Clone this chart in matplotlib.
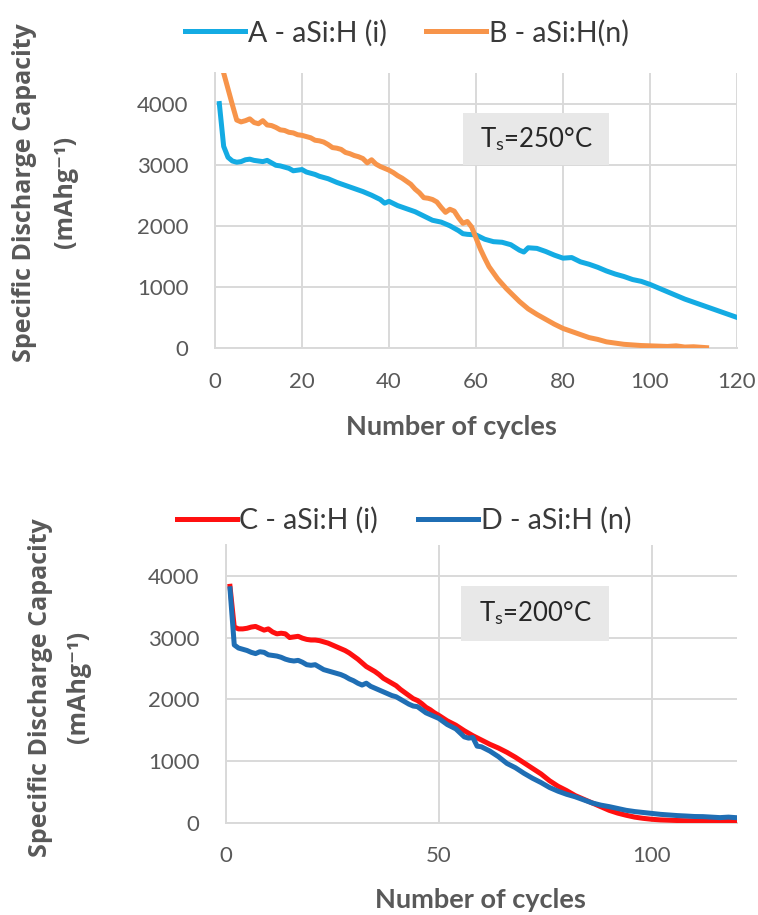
import matplotlib
matplotlib.use("Agg")
import matplotlib.pyplot as plt
from matplotlib.patches import Rectangle

plt.rcParams["font.family"] = ["Lato", "DejaVu Sans"]
plt.rcParams["mathtext.fontset"] = "custom"
plt.rcParams["mathtext.rm"] = "Lato"
plt.rcParams["mathtext.it"] = "Lato:italic"

GREY = "#595959"
GRID = "#d9d9d9"

# ---- top panel, Ts = 250 C ----
a_cycles = [1, 2, 3, 4, 5, 6, 7, 8, 9, 10, 11, 12, 13, 14, 15, 16, 17, 18, 19, 20,
            21, 22, 23, 24, 26, 28, 30, 32, 34, 36, 38, 39, 40, 42, 44, 46, 48, 50,
            52, 54, 56, 57, 58, 60, 62, 64, 66, 68, 70, 71, 72, 74, 76, 78, 80, 82,
            84, 86, 88, 90, 92, 94, 96, 98, 100, 102, 104, 106, 108, 110, 112, 114,
            116, 118, 120]
a_capacity = [4000, 3300, 3120, 3060, 3040, 3050, 3080, 3090, 3070, 3060, 3050, 3070,
              3030, 2990, 2980, 2960, 2940, 2900, 2910, 2920, 2880, 2860, 2840, 2810,
              2770, 2710, 2660, 2610, 2560, 2500, 2430, 2370, 2400, 2330, 2280, 2230,
              2160, 2090, 2060, 2000, 1920, 1870, 1860, 1850, 1780, 1740, 1730, 1690,
              1600, 1570, 1640, 1630, 1580, 1520, 1470, 1480, 1410, 1370, 1320, 1260,
              1210, 1170, 1120, 1090, 1040, 980, 920, 860, 800, 750, 700, 650, 600,
              550, 500]

b_cycles = list(range(1, 71)) + [72, 74, 76, 78, 80, 82, 84, 86, 88, 90, 92, 94, 96,
                                 98, 100, 102, 104, 106, 108, 110, 112, 113]
b_capacity = [4830, 4500, 4240, 3980, 3730, 3700, 3720, 3750, 3690, 3670, 3720, 3650,
              3640, 3610, 3570, 3560, 3530, 3520, 3490, 3480, 3460, 3440, 3400, 3390,
              3370, 3330, 3280, 3270, 3250, 3200, 3180, 3150, 3130, 3100, 3030, 3080,
              3010, 2970, 2940, 2910, 2870, 2820, 2780, 2730, 2680, 2600, 2540, 2460,
              2450, 2430, 2390, 2300, 2220, 2270, 2240, 2130, 2040, 2070, 1980, 1800,
              1620, 1470, 1330, 1230, 1130, 1050, 970, 900, 830, 760,
              640, 550, 470, 390, 320, 270, 220, 170, 140, 100, 80, 60, 50, 40, 35,
              30, 25, 35, 15, 20, 10, 5]

# ---- bottom panel, Ts = 200 C ----
cd_cycles = list(range(1, 51)) + list(range(52, 121, 2))
c_capacity = [3830, 3170, 3140, 3140, 3150, 3170, 3180, 3150, 3120, 3140, 3090, 3060,
              3070, 3060, 3000, 3010, 3020, 2990, 2970, 2960, 2960, 2950, 2930, 2910,
              2880, 2850, 2820, 2790, 2750, 2700, 2650, 2590, 2530, 2490, 2450, 2400,
              2340, 2300, 2260, 2220, 2160, 2110, 2060, 2010, 1980, 1930, 1870, 1830,
              1780, 1740,
              1650, 1580, 1490, 1410, 1340, 1270, 1210, 1140, 1060, 970, 880, 790, 680,
              590, 520, 440, 380, 320, 260, 200, 155, 120, 90, 70, 55, 45, 40, 35, 32,
              30, 28, 25, 24, 22, 21]

d_cycles = list(range(1, 51)) + [52, 54, 56, 57, 58, 59, 60] + list(range(62, 121, 2))
d_capacity = [3790, 2880, 2830, 2810, 2790, 2760, 2740, 2770, 2760, 2720, 2710, 2700,
              2680, 2650, 2630, 2620, 2630, 2600, 2560, 2550, 2560, 2520, 2480, 2460,
              2440, 2420, 2400, 2370, 2330, 2300, 2260, 2230, 2260, 2210, 2180, 2150,
              2120, 2090, 2060, 2040, 2000, 1960, 1920, 1890, 1880, 1830, 1780, 1750,
              1720, 1690,
              1590, 1520, 1390, 1370, 1380, 1240, 1230,
              1160, 1070, 960, 890, 800, 720, 650, 570, 510, 460, 420, 370, 320, 285,
              260, 230, 200, 180, 165, 150, 135, 125, 115, 108, 100, 98, 90, 82, 90, 80]

y_ticks = [0, 1000, 2000, 3000, 4000]


def style_axes(ax, xticks):
    ax.set_xlim(0, 120)
    ax.set_ylim(0, 4500)
    ax.set_xticks(xticks)
    ax.set_yticks(y_ticks)
    for s in ["top", "right"]:
        ax.spines[s].set_visible(False)
    for s in ["left", "bottom"]:
        ax.spines[s].set_color(GRID)
        ax.spines[s].set_linewidth(1.4)
    ax.grid(True, color=GRID, linewidth=1.4)
    ax.set_axisbelow(True)
    ax.tick_params(length=0, labelsize=16, labelcolor=GREY)
    ax.tick_params(axis="y", pad=19)
    ax.tick_params(axis="x", pad=17)


def ts_box(ax, x0, y0, w, h, label):
    ax.add_patch(Rectangle((x0, y0), w, h, facecolor="#e8e8e8", edgecolor="none", zorder=1))
    ax.text(x0 + w / 2, y0 + h / 2, label, ha="center", va="center", fontsize=18.5,
            color="#262626", zorder=2)


def ylabel(fig, x1, x2, y):
    fam = ["Open Sans", "DejaVu Sans"]
    fig.text(x1, y, "Specific Discharge Capacity", rotation=90, ha="center", va="center",
             fontsize=18, fontweight="bold", color=GREY, family=fam)
    fig.text(x2, y, "(mAhg\u207b\u00b9)", rotation=90, ha="center", va="center",
             fontsize=18, fontweight="bold", color=GREY, family=fam)


fig = plt.figure(figsize=(7.58, 9.15), dpi=100)

# top
ax1 = fig.add_axes([0.2836, 0.6197, 0.6887, 0.3005])
style_axes(ax1, [0, 20, 40, 60, 80, 100, 120])
la, = ax1.plot(a_cycles, a_capacity, color="#14ABE3", lw=3.6, label="A - aSi:H (i)", zorder=3)
lb, = ax1.plot(b_cycles, b_capacity, color="#F7944A", lw=3.6, label="B - aSi:H(n)", zorder=3)
ts_box(ax1, 57, 2990, 33.6, 860, "T$_\\mathrm{s}$=250°C")
fig.legend(handles=[la, lb], loc="center", bbox_to_anchor=(0.537, 0.964), ncol=2,
           frameon=False, fontsize=20.5, labelcolor="#3a3a3a", handlelength=2.1,
           handletextpad=0.1, columnspacing=1.4)
fig.text(0.595, 0.533, "Number of cycles", ha="center", va="center", fontsize=19.5,
         fontweight="bold", color=GREY)
ylabel(fig, 0.032, 0.087, 0.790)

# bottom
ax2 = fig.add_axes([0.2978, 0.1009, 0.6745, 0.3035])
style_axes(ax2, [0, 50, 100])
lc, = ax2.plot(cd_cycles, c_capacity, color="#FF1010", lw=3.6, label="C - aSi:H (i)", zorder=3)
ld, = ax2.plot(d_cycles, d_capacity, color="#1F6EB4", lw=3.6, label="D - aSi:H (n)", zorder=3)
ts_box(ax2, 55.3, 2940, 34.7, 900, "T$_\\mathrm{s}$=200°C")
fig.legend(handles=[lc, ld], loc="center", bbox_to_anchor=(0.533, 0.431), ncol=2,
           frameon=False, fontsize=20.5, labelcolor="#3a3a3a", handlelength=2.1,
           handletextpad=0.1, columnspacing=1.4)
fig.text(0.634, 0.016, "Number of cycles", ha="center", va="center", fontsize=19.5,
         fontweight="bold", color=GREY)
ylabel(fig, 0.054, 0.104, 0.249)

fig.savefig("out.png", dpi=100)
